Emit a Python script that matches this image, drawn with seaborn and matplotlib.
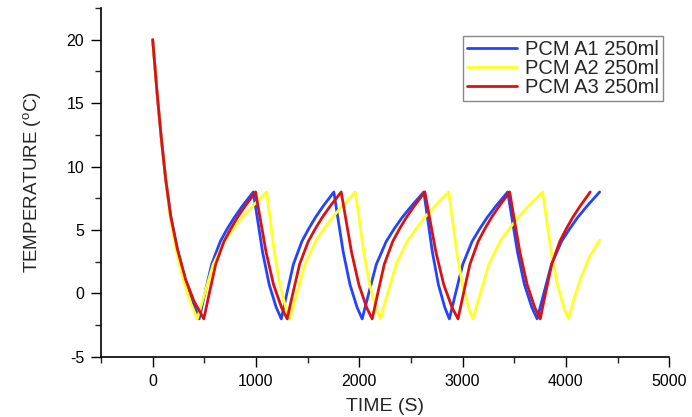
import pandas as pd
import matplotlib
matplotlib.use("Agg")
import matplotlib.pyplot as plt
from matplotlib.ticker import MultipleLocator
import seaborn as sns

# Valores (tiempo en s, temperatura en °C)
time_a1 = [0, 45, 84, 126, 174, 239, 315, 385, 450,
           502, 571, 654, 722, 791, 869, 974,
           1012, 1063, 1128, 1196, 1245,
           1296, 1362, 1444, 1510, 1576, 1652, 1754,
           1792, 1844, 1910, 1979, 2028,
           2088, 2165, 2261, 2338, 2416, 2506, 2625,
           2660, 2707, 2766, 2828, 2872,
           2929, 3002, 3092, 3166, 3239, 3324, 3437,
           3477, 3531, 3599, 3671, 3722,
           3783, 3861, 3958, 4037, 4115, 4206, 4327]
temp_a1 = [20, 15.6, 12.2, 9.0, 6.1, 3.5, 1.1, -0.6, -2,
           -0.1, 2.3, 4.1, 5.1, 6.0, 6.9, 8,
           6.0, 3.3, 0.7, -1.1, -2,
           -0.1, 2.3, 4.1, 5.1, 6.0, 6.9, 8,
           6.0, 3.3, 0.7, -1.1, -2,
           -0.1, 2.3, 4.1, 5.1, 6.0, 6.9, 8,
           6.0, 3.3, 0.7, -1.1, -2,
           -0.1, 2.3, 4.1, 5.1, 6.0, 6.9, 8,
           6.0, 3.3, 0.7, -1.1, -2,
           -0.1, 2.3, 4.1, 5.1, 6.0, 6.9, 8]

time_a2 = [0, 45, 84, 126, 170, 230, 300, 370, 432,
           499, 586, 694, 781, 868, 969, 1103,
           1135, 1177, 1231, 1288, 1328,
           1392, 1474, 1576, 1658, 1741, 1836, 1963,
           1997, 2043, 2101, 2161, 2205,
           2271, 2357, 2463, 2549, 2635, 2734, 2866,
           2899, 2943, 2999, 3058, 3100,
           3168, 3255, 3363, 3451, 3539, 3640, 3775,
           3810, 3858, 3918, 3981, 4026,
           4080, 4139, 4230, 4327]
temp_a2 = [20, 15.6, 12.2, 9.0, 6.0, 3.3, 1.0, -0.8, -2,
           -0.1, 2.3, 4.1, 5.1, 6.0, 6.9, 8,
           6.0, 3.3, 0.7, -1.1, -2,
           -0.1, 2.3, 4.1, 5.1, 6.0, 6.9, 8,
           6.0, 3.3, 0.7, -1.1, -2,
           -0.1, 2.3, 4.1, 5.1, 6.0, 6.9, 8,
           6.0, 3.3, 0.7, -1.1, -2,
           -0.1, 2.3, 4.1, 5.1, 6.0, 6.9, 8,
           6.0, 3.3, 0.7, -1.1, -2,
           -0.4, 1.1, 2.9, 4.2]

time_a3 = [0, 45, 84, 126, 174, 239, 319, 400, 495,
           545, 610, 690, 756, 821, 896, 996,
           1039, 1097, 1170, 1247, 1302,
           1354, 1422, 1506, 1574, 1642, 1720, 1825,
           1867, 1924, 1996, 2071, 2125,
           2176, 2242, 2324, 2390, 2457, 2533, 2635,
           2680, 2741, 2818, 2898, 2956,
           3006, 3071, 3151, 3216, 3281, 3356, 3456,
           3497, 3554, 3625, 3699, 3752,
           3800, 3863, 3941, 4004, 4067, 4139, 4236]
temp_a3 = [20, 15.6, 12.2, 9.0, 6.1, 3.5, 1.1, -0.6, -2,
           -0.1, 2.3, 4.1, 5.1, 6.0, 6.9, 8,
           6.0, 3.3, 0.7, -1.1, -2,
           -0.1, 2.3, 4.1, 5.1, 6.0, 6.9, 8,
           6.0, 3.3, 0.7, -1.1, -2,
           -0.1, 2.3, 4.1, 5.1, 6.0, 6.9, 8,
           6.0, 3.3, 0.7, -1.1, -2,
           -0.1, 2.3, 4.1, 5.1, 6.0, 6.9, 8,
           6.0, 3.3, 0.7, -1.1, -2,
           -0.1, 2.3, 4.1, 5.1, 6.0, 6.9, 8]

series_names = ["PCM A1 250ml", "PCM A2 250ml", "PCM A3 250ml"]
colores = ["#2244ff", "#ffff22", "#dd1111"]

# Tabla larga para seaborn
frames = []
for name, t, v in zip(series_names, [time_a1, time_a2, time_a3],
                      [temp_a1, temp_a2, temp_a3]):
    frames.append(pd.DataFrame({"time": t, "temp": v, "serie": name}))
df = pd.concat(frames, ignore_index=True)

sns.set_style("ticks")
plt.rcParams["font.family"] = ["Liberation Sans", "DejaVu Sans"]
plt.rcParams["mathtext.fontset"] = "custom"
plt.rcParams["mathtext.rm"] = "Liberation Sans"
plt.rcParams["axes.unicode_minus"] = False

fig = plt.figure(figsize=(6.92, 4.17), dpi=100)
ax = fig.add_axes([0.146, 0.144, 0.821, 0.837])

sns.lineplot(data=df, x="time", y="temp", hue="serie", hue_order=series_names,
             palette=colores, estimator=None, sort=False, linewidth=2.0, ax=ax)

ax.set_xlim(-500, 5000)
ax.set_ylim(-5, 22.5)
ax.xaxis.set_major_locator(MultipleLocator(1000))
ax.xaxis.set_minor_locator(MultipleLocator(500))
ax.yaxis.set_major_locator(MultipleLocator(5))
ax.yaxis.set_minor_locator(MultipleLocator(2.5))
ax.tick_params(which="major", length=7, width=1, direction="out", pad=5,
               labelsize=11.5, colors="black")
ax.tick_params(which="minor", length=4, width=1, direction="out")

for side in ["top", "right"]:
    ax.spines[side].set_visible(False)
for side in ["left", "bottom"]:
    ax.spines[side].set_linewidth(1.2)
    ax.spines[side].set_color("black")

ax.set_xlabel("TIME (S)", fontsize=14, labelpad=7)
ax.set_ylabel(r"TEMPERATURE ($^{\mathrm{o}}$C)", fontsize=13.5, labelpad=16)

leg = ax.legend(loc="upper right", bbox_to_anchor=(0.99, 0.92),
                borderaxespad=0, fontsize=14.5, handlelength=2.5,
                labelspacing=0.0, handletextpad=0.4, borderpad=0.2,
                fancybox=False, framealpha=1, edgecolor="#888888")
leg.get_frame().set_linewidth(1.0)

plt.savefig("out.png", dpi=100)
